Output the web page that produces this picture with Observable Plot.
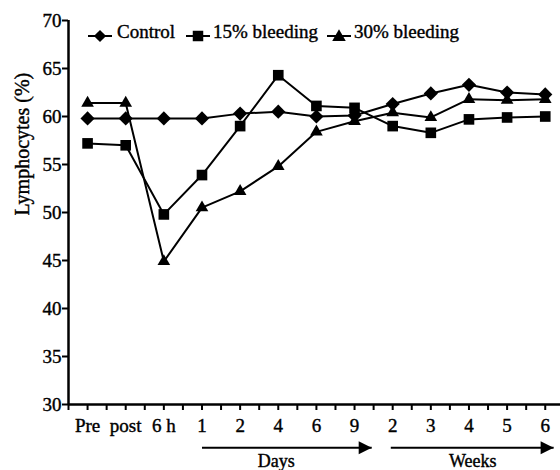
<!DOCTYPE html>
<html><head>
<meta charset="utf-8">
<script src="https://cdn.jsdelivr.net/npm/d3@7"></script>
<script src="https://cdn.jsdelivr.net/npm/@observablehq/plot@0.6"></script>
<style>
body{margin:0;background:#fff}
#wrap{position:relative;width:560px;height:470px;font-family:"Liberation Serif",serif;color:#000}
#wrap svg text{stroke:#000;stroke-width:0.4px}
.leg{position:absolute;top:22px;font-size:19px;line-height:20px;white-space:nowrap;-webkit-text-stroke:0.4px #000}
.leg svg{vertical-align:middle}
</style>
</head><body><div id="wrap"></div>
<script>
const categories = ["Pre","post","6 h","1","2","4","6","9","2","3","4","5","6"];
const control = [59.8,59.8,59.8,59.8,60.3,60.5,60.0,60.1,61.3,62.4,63.3,62.5,62.3];
const bleed15 = [57.2,57.0,49.8,53.9,59.0,64.3,61.1,60.9,59.0,58.3,59.7,59.9,60.0];
const bleed30 = [61.4,61.4,44.9,50.5,52.2,54.8,58.4,59.5,60.4,59.9,61.8,61.7,61.8];
const seriesNames = ["Control","15% bleeding","30% bleeding"];
const seriesSymbols = ["diamond2","square","triangle"];
const yTicks = [30,35,40,45,50,55,60,65,70];
const periodLabels = ["Days","Weeks"];
const periodStart = [3, 7.95];
const periodEnd = [7.45, 12.22];
const periodMid = [4.95, 10.1];

const seriesValues = [control, bleed15, bleed30];
const rows = [];
seriesValues.forEach((vals, s) => vals.forEach((v, i) => rows.push({i, v, s: seriesNames[s]})));
const periods = periodLabels.map((label, k) => ({label, x1: periodStart[k], x2: periodEnd[k], xm: periodMid[k]}));

const arrowHead = {draw(ctx){ ctx.moveTo(0,0); ctx.lineTo(-13,-6.5); ctx.lineTo(-13,6.5); ctx.closePath(); }};

const xTicks = d3.range(-0.5, 12.51, 0.5);

const chart = Plot.plot({
  width: 560, height: 470,
  marginLeft: 68, marginRight: 0, marginTop: 20, marginBottom: 66,
  style: {fontFamily: "'Liberation Serif', serif", fontSize: "19px", color: "#000", background: "#fff", overflow: "visible"},
  x: {domain: [-0.5, 12.4]},
  y: {domain: [30, 70]},
  marks: [
    Plot.axisY({ticks: yTicks, tickSize: 6, tickPadding: 1, strokeWidth: 2, label: null, fontSize: 19}),
    Plot.axisX({ticks: xTicks, tickSize: 6, tickPadding: 8, strokeWidth: 2, label: null, fontSize: 19,
      tickFormat: d => Number.isInteger(d) ? categories[d] : ""}),
    Plot.ruleX([-0.5], {strokeWidth: 2.5}),
    Plot.ruleY([30], {strokeWidth: 2.5}),
    Plot.text(["Lymphocytes (%)"], {frameAnchor: "left", rotate: -90, dx: -46, dy: 3, fontSize: 20}),
    ...seriesNames.map((name, s) => Plot.line(rows.filter(d => d.s === name), {x: "i", y: "v", stroke: "#000", strokeWidth: 2})),
    ...seriesNames.map((name, s) => Plot.dot(rows.filter(d => d.s === name), {x: "i", y: "v", fill: "#000", stroke: "none", symbol: seriesSymbols[s], r: s === 0 ? 6.4 : (s === 1 ? 6 : 4.7)})),
    Plot.link(periods, {x1: "x1", x2: "x2", y1: () => 25.5, y2: () => 25.5, stroke: "#000", strokeWidth: 2}),
    Plot.dot(periods, {x: "x2", y: () => 25.5, symbol: arrowHead, fill: "#000", stroke: "none"}),
    Plot.text(periods, {x: "xm", y: () => 24.1, text: "label", fontSize: 18})
  ]
});
const wrap = document.getElementById("wrap");
wrap.appendChild(chart);

function icon(s){
  const sym = d3.symbol().type([d3.symbolDiamond2, d3.symbolSquare, d3.symbolTriangle][s]).size([95, 110, 80][s]);
  return `<svg width="26" height="16" viewBox="0 0 26 16"><line x1="1" x2="25" y1="8" y2="8" stroke="#000" stroke-width="2"/><path transform="translate(13,${s===2?9:8})" d="${sym()}" fill="#000"/></svg>`;
}
const legLeft = [[87,117],[185,213],[326,354]];
seriesNames.forEach((name, s) => {
  const a = document.createElement("div"); a.className = "leg"; a.style.left = legLeft[s][0] + "px"; a.innerHTML = icon(s); a.style.top = "24px";
  const b = document.createElement("div"); b.className = "leg"; b.style.left = legLeft[s][1] + "px"; b.textContent = name;
  wrap.appendChild(a); wrap.appendChild(b);
});
</script>
</body></html>
